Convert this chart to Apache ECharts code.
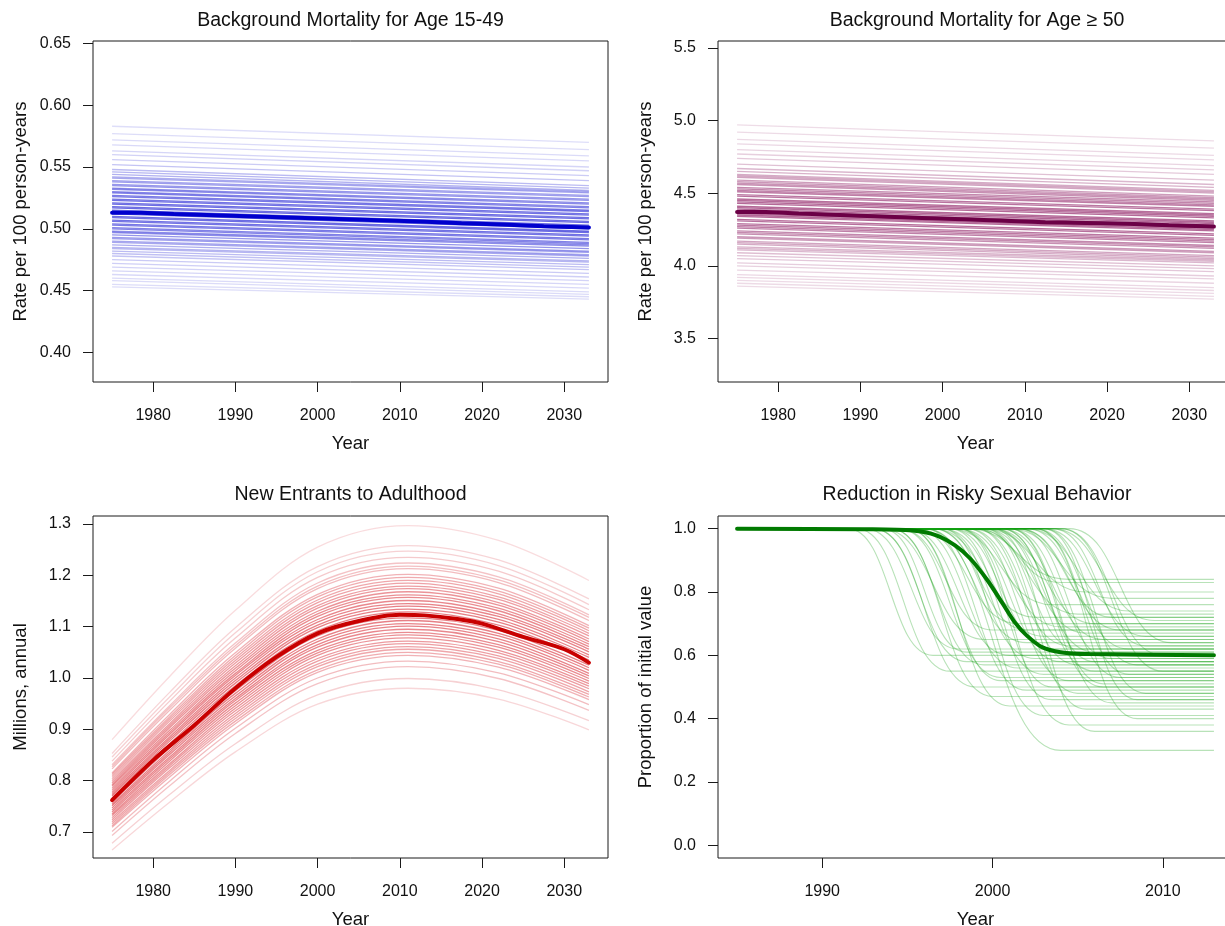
<!DOCTYPE html>
<html>
<head>
<meta charset="utf-8">
<script src="https://cdn.jsdelivr.net/npm/echarts@6/dist/echarts.min.js"></script>
<style>
html,body{margin:0;padding:0;background:#fff;}
#chart{width:1225px;height:926px;}
</style>
</head>
<body>
<div id="chart"></div>
<script>
// ---------------- DATA ----------------
const panelTitles = ['Background Mortality for Age 15-49', 'Background Mortality for Age \u2265 50', 'New Entrants to Adulthood', 'Reduction in Risky Sexual Behavior'];
const xAxisNames = ['Year', 'Year', 'Year', 'Year'];
const yAxisNames = ['Rate per 100 person-years', 'Rate per 100 person-years', 'Millions, annual', 'Proportion of initial value'];

const yearTicks = [1980, 1990, 2000, 2010, 2020, 2030];
const riskYearTicks = [1990, 2000, 2010];
const mort1549Ticks = [0.40, 0.45, 0.50, 0.55, 0.60, 0.65];
const mort50Ticks = [3.5, 4.0, 4.5, 5.0, 5.5];
const entrantTicks = [0.7, 0.8, 0.9, 1.0, 1.1, 1.2, 1.3];
const riskTicks = [0.0, 0.2, 0.4, 0.6, 0.8, 1.0];

// Background mortality, age 15-49: each draw runs from 1975 to 2033
const mortYears = [1975, 2033];
const mort1549Start = [0.583,0.577,0.572,0.568,0.563,0.560,0.556,0.552,0.548,0.546,0.544,0.542,0.541,0.539,0.538,0.536,0.535,0.533,0.532,0.530,0.529,0.527,0.526,0.524,0.523,0.521,0.520,0.518,0.517,0.515,0.514,0.512,0.510,0.509,0.507,0.506,0.504,0.503,0.501,0.500,0.498,0.497,0.495,0.493,0.492,0.490,0.489,0.487,0.485,0.484,0.482,0.480,0.478,0.475,0.472,0.469,0.466,0.463,0.460,0.458,0.455,0.453];
const mort1549End   = [0.570,0.564,0.559,0.555,0.550,0.547,0.543,0.539,0.535,0.533,0.531,0.530,0.529,0.527,0.526,0.524,0.523,0.521,0.520,0.518,0.517,0.515,0.514,0.512,0.511,0.509,0.508,0.506,0.505,0.503,0.502,0.500,0.498,0.497,0.495,0.494,0.492,0.491,0.489,0.488,0.487,0.486,0.484,0.482,0.481,0.479,0.478,0.476,0.474,0.473,0.471,0.469,0.467,0.464,0.461,0.458,0.455,0.452,0.449,0.447,0.445,0.443];
const mortStepYears = [1975,1978.5,1982.5,1987.5,1992.5,1997.5,2002.5,2007.5,2012.5,2017.5,2022.5,2027.5,2033];
const mort1549Median = [0.513,0.512,0.511,0.510,0.509,0.508,0.507,0.506,0.5045,0.5035,0.502,0.501,0.501];

// Background mortality, age >= 50
const mort50Start = [4.97,4.92,4.87,4.84,4.80,4.77,4.74,4.70,4.67,4.65,4.63,4.62,4.61,4.59,4.58,4.57,4.56,4.54,4.53,4.52,4.51,4.49,4.48,4.46,4.45,4.44,4.43,4.41,4.40,4.39,4.38,4.36,4.35,4.34,4.32,4.31,4.29,4.28,4.27,4.26,4.24,4.23,4.22,4.20,4.19,4.17,4.16,4.15,4.13,4.12,4.11,4.09,4.07,4.05,4.02,4.00,3.97,3.94,3.92,3.90,3.88,3.86];
const mort50End   = [4.86,4.81,4.76,4.73,4.69,4.66,4.63,4.59,4.56,4.54,4.52,4.51,4.50,4.48,4.47,4.46,4.45,4.44,4.43,4.42,4.41,4.39,4.38,4.36,4.35,4.34,4.33,4.31,4.30,4.29,4.28,4.26,4.25,4.24,4.22,4.21,4.19,4.18,4.17,4.16,4.14,4.13,4.12,4.10,4.09,4.07,4.06,4.05,4.04,4.03,4.02,4.00,3.98,3.96,3.93,3.91,3.88,3.85,3.83,3.81,3.79,3.77];
const mort50Median = [4.37,4.36,4.35,4.34,4.33,4.32,4.31,4.30,4.295,4.29,4.28,4.27,4.27];

// New entrants to adulthood (millions): draws at key years
const entrantYears = [1975, 1982, 1990, 2000, 2011, 2022, 2033];
const entrantDraw01 = [0.880,1.003,1.132,1.255,1.297,1.268,1.190];
const entrantDraw02 = [0.853,0.972,1.098,1.217,1.258,1.230,1.154];
const entrantDraw03 = [0.846,0.963,1.088,1.207,1.247,1.219,1.143];
const entrantDraw04 = [0.838,0.955,1.078,1.196,1.235,1.208,1.133];
const entrantDraw05 = [0.831,0.946,1.068,1.185,1.224,1.197,1.123];
const entrantDraw06 = [0.827,0.942,1.063,1.179,1.218,1.191,1.118];
const entrantDraw07 = [0.823,0.937,1.058,1.174,1.213,1.186,1.112];
const entrantDraw08 = [0.815,0.929,1.049,1.163,1.202,1.175,1.102];
const entrantDraw09 = [0.812,0.924,1.044,1.158,1.196,1.169,1.097];
const entrantDraw10 = [0.808,0.920,1.039,1.152,1.190,1.164,1.092];
const entrantDraw11 = [0.804,0.916,1.034,1.147,1.185,1.158,1.087];
const entrantDraw12 = [0.800,0.911,1.029,1.141,1.179,1.153,1.082];
const entrantDraw13 = [0.796,0.907,1.024,1.136,1.174,1.147,1.076];
const entrantDraw14 = [0.792,0.903,1.019,1.130,1.168,1.142,1.071];
const entrantDraw15 = [0.789,0.898,1.014,1.125,1.162,1.136,1.066];
const entrantDraw16 = [0.785,0.894,1.009,1.120,1.157,1.131,1.061];
const entrantDraw17 = [0.781,0.890,1.005,1.114,1.151,1.125,1.056];
const entrantDraw18 = [0.777,0.885,1.000,1.109,1.145,1.120,1.051];
const entrantDraw19 = [0.773,0.881,0.995,1.103,1.140,1.114,1.045];
const entrantDraw20 = [0.770,0.877,0.990,1.098,1.134,1.109,1.040];
const entrantDraw21 = [0.766,0.872,0.985,1.092,1.129,1.103,1.035];
const entrantDraw22 = [0.758,0.864,0.975,1.082,1.117,1.093,1.025];
const entrantDraw23 = [0.754,0.859,0.970,1.076,1.112,1.087,1.020];
const entrantDraw24 = [0.751,0.855,0.965,1.071,1.106,1.082,1.015];
const entrantDraw25 = [0.747,0.851,0.960,1.065,1.101,1.076,1.009];
const entrantDraw26 = [0.743,0.846,0.956,1.060,1.095,1.071,1.004];
const entrantDraw27 = [0.739,0.842,0.951,1.054,1.089,1.065,0.999];
const entrantDraw28 = [0.735,0.838,0.946,1.049,1.084,1.060,0.994];
const entrantDraw29 = [0.732,0.833,0.941,1.044,1.078,1.054,0.989];
const entrantDraw30 = [0.728,0.829,0.936,1.038,1.072,1.049,0.984];
const entrantDraw31 = [0.724,0.825,0.931,1.033,1.067,1.043,0.979];
const entrantDraw32 = [0.720,0.820,0.926,1.027,1.061,1.038,0.973];
const entrantDraw33 = [0.716,0.816,0.921,1.022,1.056,1.032,0.968];
const entrantDraw34 = [0.712,0.812,0.916,1.016,1.050,1.027,0.963];
const entrantDraw35 = [0.709,0.807,0.911,1.011,1.044,1.021,0.958];
const entrantDraw36 = [0.701,0.799,0.902,1.000,1.033,1.010,0.948];
const entrantDraw37 = [0.693,0.790,0.892,0.989,1.022,0.999,0.937];
const entrantDraw38 = [0.678,0.773,0.872,0.967,0.999,0.977,0.917];
const entrantDraw39 = [0.665,0.758,0.856,0.949,0.980,0.959,0.899];
const entrantMedianYears = [1975,1980,1985,1990,1995,2000,2005,2010,2013,2017,2020,2025,2030,2033];
const entrantMedian = [0.762,0.840,0.908,0.980,1.041,1.087,1.111,1.123,1.122,1.115,1.106,1.080,1.056,1.030];

// Reduction in risky sexual behaviour: each draw stays at 1 until dropStart, reaches floor at dropEnd
const riskYears = [1985, 2013];
const riskDropStart = [1991.5,1992.0,1992.5,1993.0,1993.0,1993.5,1994.0,1994.0,1994.5,1994.5,1995.0,1995.0,1995.5,1995.5,1996.0,1996.0,1996.0,1996.5,1996.5,1997.0,1997.0,1997.0,1997.5,1997.5,1997.5,1998.0,1998.0,1998.0,1998.5,1998.5,1998.5,1999.0,1999.0,1999.0,1999.5,1999.5,1999.5,2000.0,2000.0,2000.0,2000.5,2000.5,2001.0,2001.0,2001.0,2001.5,2001.5,2002.0,2002.0,2002.5,2002.5,2003.0,2003.0,2003.5,2004.0,2004.0,2004.5,2000.0,1999.0,2001.0,1993.5,1995.0,1996.5,1998.0,1999.5,2000.5,2001.5,2002.5,2003.0,2003.5];
const riskDropEnd   = [1996.5,1997.5,1998.0,1998.5,1999.0,1999.5,1999.5,2000.0,2000.0,2000.5,2001.0,2001.0,2001.5,2001.5,2002.0,2004.0,2002.0,2002.5,2002.5,2003.0,2003.0,2003.0,2003.5,2003.5,2003.5,2004.0,2004.0,2004.5,2004.5,2004.5,2004.5,2005.0,2005.0,2005.0,2005.5,2005.5,2005.5,2006.0,2006.0,2006.0,2006.5,2006.5,2007.0,2007.0,2007.0,2007.5,2007.5,2008.0,2008.0,2008.5,2008.5,2009.0,2009.0,2009.5,2010.0,2010.0,2010.5,2006.0,2004.0,2006.5,1998.5,2000.5,2002.0,2003.5,2005.0,2006.0,2007.0,2008.0,2008.5,2009.0];
const riskFloor     = [0.60,0.55,0.62,0.58,0.50,0.65,0.57,0.47,0.68,0.53,0.60,0.44,0.70,0.56,0.64,0.30,0.49,0.72,0.59,0.41,0.66,0.54,0.76,0.62,0.46,0.58,0.69,0.38,0.84,0.52,0.63,0.48,0.73,0.57,0.67,0.43,0.80,0.55,0.61,0.70,0.50,0.65,0.78,0.45,0.59,0.68,0.53,0.62,0.74,0.40,0.57,0.66,0.48,0.71,0.60,0.55,0.64,0.36,0.83,0.51,0.61,0.52,0.68,0.50,0.62,0.58,0.72,0.54,0.46,0.63];
const riskMedianYears = [1985,1992.5,1995.3,1996.7,1997.8,1998.7,1999.7,2000.6,2001.3,2002.0,2002.9,2004.0,2005.7,2013];
const riskMedian      = [1.000,0.998,0.994,0.979,0.947,0.905,0.837,0.763,0.705,0.663,0.626,0.610,0.604,0.600];

// ---------------- CHART ----------------
const entrantDraws = [entrantDraw01,entrantDraw02,entrantDraw03,entrantDraw04,entrantDraw05,entrantDraw06,entrantDraw07,entrantDraw08,entrantDraw09,entrantDraw10,entrantDraw11,entrantDraw12,entrantDraw13,entrantDraw14,entrantDraw15,entrantDraw16,entrantDraw17,entrantDraw18,entrantDraw19,entrantDraw20,entrantDraw21,entrantDraw22,entrantDraw23,entrantDraw24,entrantDraw25,entrantDraw26,entrantDraw27,entrantDraw28,entrantDraw29,entrantDraw30,entrantDraw31,entrantDraw32,entrantDraw33,entrantDraw34,entrantDraw35,entrantDraw36,entrantDraw37,entrantDraw38,entrantDraw39];

const FONT = '"Liberation Sans", Arial, Helvetica, sans-serif';
const TXT = '#111';
const AX = '#1a1a1a';

const grids = [
  {left: 93, top: 41, width: 515, height: 341},
  {left: 718, top: 41, width: 515, height: 341},
  {left: 93, top: 516, width: 515, height: 342},
  {left: 718, top: 516, width: 515, height: 342}
];
const xRanges = [[1972.68, 2035.32], [1972.68, 2035.32], [1972.68, 2035.32], [1983.88, 2014.12]];
const yRanges = [[0.376, 0.652], [3.20, 5.548], [0.6493, 1.3156], [-0.04, 1.04]];
const xTickSets = [yearTicks, yearTicks, yearTicks, riskYearTicks];
const yTickSets = [mort1549Ticks, mort50Ticks, entrantTicks, riskTicks];
const yDecimals = [2, 1, 1, 1];
const titleCenters = [[350.5, 21], [977, 21], [350.5, 495], [977, 495]];

const option = {
  animation: false,
  backgroundColor: '#fff',
  title: panelTitles.map((t, i) => ({
    text: t, left: titleCenters[i][0], top: titleCenters[i][1] - 11, textAlign: 'center', padding: 0,
    textStyle: {fontFamily: FONT, fontSize: 19.5, fontWeight: 'normal', color: TXT, lineHeight: 22}
  })),
  grid: grids.map(g => Object.assign({show: true, borderColor: AX, borderWidth: 1, backgroundColor: 'transparent', containLabel: false, outerBoundsMode: 'none'}, g)),
  xAxis: grids.map((g, i) => ({
    gridIndex: i, type: 'value', min: xRanges[i][0], max: xRanges[i][1],
    axisLine: {show: false, onZero: false}, splitLine: {show: false},
    axisTick: {show: true, customValues: xTickSets[i], length: 10, lineStyle: {color: AX, width: 1}},
    axisLabel: {customValues: xTickSets[i], margin: 26, fontSize: 16, color: TXT, fontFamily: FONT, formatter: v => String(v)},
    name: xAxisNames[i], nameLocation: 'middle', nameGap: 52,
    nameTextStyle: {fontSize: 18.5, color: TXT, fontFamily: FONT}
  })),
  yAxis: grids.map((g, i) => ({
    gridIndex: i, type: 'value', min: yRanges[i][0], max: yRanges[i][1],
    axisLine: {show: false, onZero: false}, splitLine: {show: false},
    axisTick: {show: true, customValues: yTickSets[i], length: 10, lineStyle: {color: AX, width: 1}},
    axisLabel: {customValues: yTickSets[i], margin: 22, fontSize: 16, color: TXT, fontFamily: FONT, formatter: v => Number(v).toFixed(yDecimals[i])},
    name: yAxisNames[i], nameLocation: 'middle', nameGap: 63,
    nameTextStyle: {fontSize: 18.5, color: TXT, fontFamily: FONT}
  })),
  series: []
};

function addLine(gi, data, color, width, opacity, extra) {
  option.series.push(Object.assign({
    type: 'line', xAxisIndex: gi, yAxisIndex: gi, data: data, symbol: 'none', silent: true,
    animation: false, emphasis: {disabled: true},
    lineStyle: {color: color, width: width, opacity: opacity}
  }, extra || {}));
}
function zip(xs, ys) { return xs.map((x, k) => [x, ys[k]]); }

// Panel 1
mort1549Start.forEach((s, k) => {
  const op = 0.14 + 0.5 * Math.exp(-Math.pow((s - 0.515) / 0.03, 2));
  addLine(0, [[mortYears[0], s], [mortYears[1], mort1549End[k]]], 'rgb(20,20,210)', 1.3, op);
});
addLine(0, zip(mortStepYears, mort1549Median), '#0000CD', 4, 1, {step: 'end', lineStyle: {color: '#0000CD', width: 4, cap: 'round'}});

// Panel 2
mort50Start.forEach((s, k) => {
  const op = 0.14 + 0.5 * Math.exp(-Math.pow((s - 4.39) / 0.26, 2));
  addLine(1, [[mortYears[0], s], [mortYears[1], mort50End[k]]], 'rgb(135,15,90)', 1.3, op);
});
addLine(1, zip(mortStepYears, mort50Median), '#6B0046', 4, 1, {step: 'end', lineStyle: {color: '#6B0046', width: 4, cap: 'round'}});

// Panel 3
entrantDraws.forEach(c => {
  const f = c[4] / 1.123;
  const op = 0.15 + 0.45 * Math.exp(-Math.pow((f - 1) / 0.08, 2));
  addLine(2, zip(entrantYears, c), 'rgb(215,40,50)', 1.3, op, {smooth: 0.35});
});
addLine(2, zip(entrantMedianYears, entrantMedian), '#C80000', 4, 1, {smooth: 0.3, lineStyle: {color: '#C80000', width: 4, cap: 'round'}});

// Panel 4
riskFloor.forEach((f, k) => {
  const d = [[riskYears[0], 1], [riskDropStart[k], 1], [riskDropEnd[k], f], [riskYears[1], f]];
  addLine(3, d, 'rgb(20,160,20)', 1.1, 0.3, {smooth: 0.5, smoothMonotone: 'x'});
});
addLine(3, zip(riskMedianYears, riskMedian), '#007A00', 4, 1, {smooth: 0.3, lineStyle: {color: '#007A00', width: 4, cap: 'round'}});

const chart = echarts.init(document.getElementById('chart'), null, {renderer: 'canvas'});
chart.setOption(option);
</script>
</body>
</html>
